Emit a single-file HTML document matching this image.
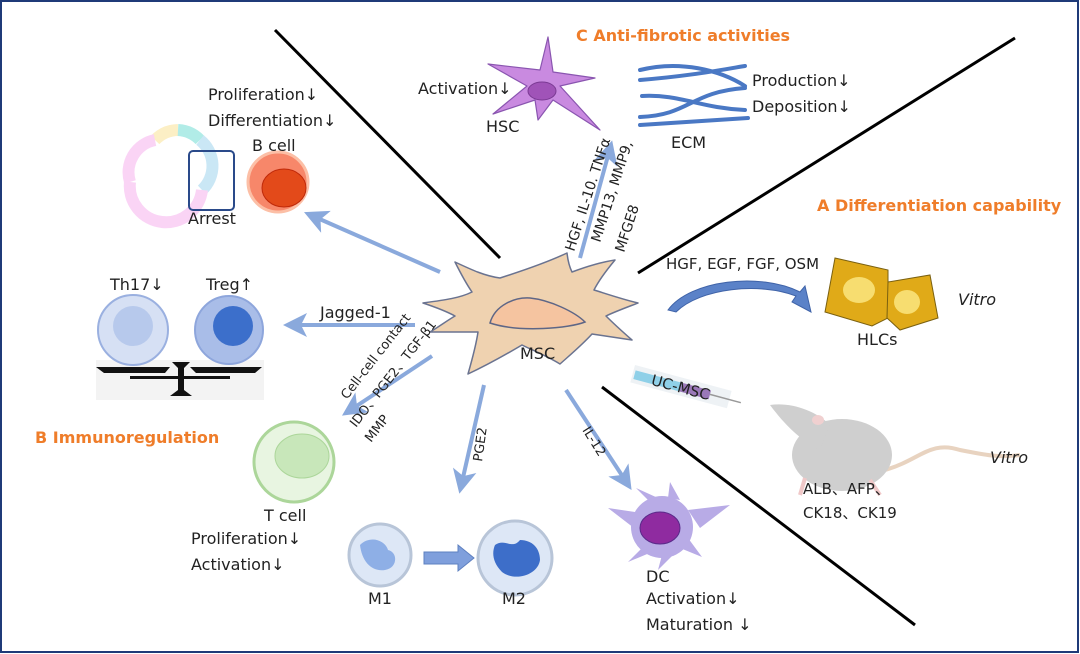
<!DOCTYPE html>
<html><head><meta charset="utf-8"><style>
html,body{margin:0;padding:0;background:#fff}
svg{display:block}
text{font-family:"DejaVu Sans","Liberation Sans",sans-serif;fill:#222}
.o{fill:#ef7d2a;font-weight:bold;font-size:16px}
</style></head><body>
<svg width="1080" height="654" viewBox="0 0 1080 654" xmlns="http://www.w3.org/2000/svg">
<defs>
<marker id="ah" markerWidth="6" markerHeight="6" refX="3" refY="3" orient="auto" markerUnits="strokeWidth">
<path d="M0,0 L6,3 L0,6 L1.5,3 z" fill="#8aa9dc"/></marker>
</defs>
<rect x="1" y="1" width="1077" height="651" fill="#fff" stroke="#1f3a78" stroke-width="2"/>
<g stroke="#000" stroke-width="3">
<line x1="275" y1="30" x2="500" y2="258"/>
<line x1="1015" y1="38" x2="638" y2="273"/>
<line x1="602" y1="387" x2="915" y2="625"/>
</g>
<text class="o" x="576" y="41">C Anti-fibrotic activities</text>
<text class="o" x="817" y="211">A Differentiation capability</text>
<text class="o" x="35" y="443">B Immunoregulation</text>

<g stroke="#8aa9dc" stroke-width="4" fill="none" marker-end="url(#ah)">
<line x1="440" y1="272" x2="315" y2="217"/>
<line x1="415" y1="325" x2="295" y2="325"/>
<line x1="432" y1="356" x2="352" y2="409"/>
<line x1="484" y1="385" x2="462" y2="482"/>
<line x1="566" y1="390" x2="625" y2="480"/>
<line x1="580" y1="258" x2="609" y2="152"/>
</g>

<path d="M423,303 C445,300 460,298 472,292 C465,282 460,272 455,262 C472,270 485,276 500,278 C525,270 548,262 567,253 C568,262 570,268 572,272 C588,266 602,262 615,260 C605,272 598,282 594,290 C610,295 625,300 638,303 C625,308 614,312 606,316 C615,325 624,333 632,340 C618,338 605,336 592,334 C582,345 570,355 560,364 C545,355 532,350 522,345 C505,355 485,366 468,374 C472,360 476,346 478,332 C462,332 446,332 430,332 C440,326 448,320 455,316 C444,310 432,306 423,303 Z" fill="#efd2b0" stroke="#6a7390" stroke-width="1.5" stroke-linejoin="round"/>
<path d="M490,323 C495,305 515,297 530,298 C550,300 575,312 585,322 C570,328 520,333 490,323 Z" fill="#f5c4a0" stroke="#5e6686" stroke-width="1.5"/>
<text x="520" y="359" font-size="16">MSC</text>

<path d="M548,37 L540,70 L488,64 L527,86 L493,114 L535,100 L538,120 L553,100 L600,130 L560,86 L595,78 L553,72 Z" fill="#c98ae0" stroke="#8a55b0" stroke-width="1.2" stroke-linejoin="round"/>
<ellipse cx="542" cy="91" rx="14" ry="9" fill="#a053b8" stroke="#7b3a94"/>
<text x="486" y="132" font-size="16">HSC</text>
<text x="418" y="94" font-size="16">Activation↓</text>
<g stroke="#4a78c4" stroke-width="4" fill="none" stroke-linecap="round">
<path d="M640,70 C680,60 720,70 745,86"/>
<path d="M640,80 C690,76 720,70 745,66"/>
<path d="M642,96 C680,94 700,108 745,110"/>
<path d="M640,117 C690,115 690,92 745,88"/>
<path d="M640,125 L748,118"/>
</g>
<text x="671" y="148" font-size="16">ECM</text>
<text x="752" y="86" font-size="16">Production↓</text>
<text x="752" y="112" font-size="16">Deposition↓</text>
<text font-size="14" transform="translate(574,252) rotate(-72)">HGF, IL-10. TNFα</text>
<text font-size="14" transform="translate(600,243) rotate(-72)">MMP13, MMP9,</text>
<text font-size="14" transform="translate(624,253) rotate(-72)">MFGE8</text>

<text x="666" y="269" font-size="15">HGF, EGF, FGF, OSM</text>
<path d="M668,310 C690,280 760,272 800,292 L805,286 L811,312 L792,302 L796,296 C760,282 700,288 676,312 Z" fill="#5b82c8" stroke="#3f63a8"/>
<path d="M835,258 L888,270 L888,318 L872,326 L825,312 Z" fill="#e0aa18" stroke="#7a6010" stroke-width="1"/>
<path d="M888,282 L930,275 L938,318 L900,330 L887,318 Z" fill="#e0aa18" stroke="#7a6010" stroke-width="1"/>
<ellipse cx="859" cy="290" rx="16" ry="13" fill="#f7dd70"/>
<ellipse cx="907" cy="302" rx="13" ry="12" fill="#f7dd70"/>
<text x="857" y="345" font-size="16">HLCs</text>
<text x="958" y="305" font-size="16" font-style="italic">Vitro</text>
<g transform="translate(635,365) rotate(15)">
<rect x="0" y="0" width="100" height="18" fill="#eef2f5"/>
<rect x="2" y="5" width="48" height="9" fill="#8fd0e8"/>
<rect x="50" y="5" width="30" height="9" fill="#9a78b8"/>
<line x1="80" y1="9" x2="112" y2="9" stroke="#999" stroke-width="1.5"/>
<text x="20" y="15" font-size="15">UC-MSC</text>
</g>
<path d="M885,470 C920,460 930,440 960,450 C985,455 1000,458 1020,455" fill="none" stroke="#e8d3c0" stroke-width="4"/>
<ellipse cx="842" cy="455" rx="50" ry="36" fill="#cfcfcf"/>
<path d="M770,405 C790,402 815,410 830,425 L820,450 C800,440 785,425 770,405 Z" fill="#cfcfcf"/>
<ellipse cx="818" cy="420" rx="6" ry="5" fill="#f0d0d0"/>
<path d="M805,478 L800,495 M870,480 L880,495" stroke="#f0c8c8" stroke-width="4"/>
<text x="990" y="463" font-size="16" font-style="italic">Vitro</text>
<text x="803" y="494" font-size="15">ALB、AFP、</text>
<text x="803" y="518" font-size="15">CK18、CK19</text>

<g fill="none" stroke-width="12" opacity="0.6">
<path d="M155,140 A33,33 0 0 1 178,130" stroke="#fbe5a0"/>
<path d="M178,130 A33,33 0 0 1 200,140" stroke="#7ee0d8"/>
<path d="M200,140 A33,33 0 0 1 202,190" stroke="#a8d8f0"/>
<path d="M202,190 A33,33 0 0 1 130,182" stroke="#f7b8f0"/>
<path d="M130,182 A33,33 0 0 1 155,140" stroke="#f7b8f0"/>
</g>
<rect x="189" y="151" width="45" height="59" rx="4" fill="none" stroke="#2a4a8a" stroke-width="2"/>
<text x="188" y="224" font-size="16">Arrest</text>
<circle cx="278" cy="182" r="30" fill="#f7876a" stroke="#fcbfa6" stroke-width="3"/>
<ellipse cx="284" cy="188" rx="22" ry="19" fill="#e34a1a" stroke="#c02a0a"/>
<text x="252" y="151" font-size="16">B cell</text>
<text x="208" y="100" font-size="16">Proliferation↓</text>
<text x="208" y="126" font-size="16">Differentiation↓</text>

<rect x="96" y="360" width="168" height="40" fill="#f3f3f3"/>
<circle cx="133" cy="330" r="35" fill="#d6e0f4" stroke="#9ab0e0" stroke-width="2"/>
<circle cx="133" cy="326" r="20" fill="#b7c9ec"/>
<circle cx="229" cy="330" r="34" fill="#a9bde8" stroke="#8ea6dc" stroke-width="2"/>
<circle cx="233" cy="326" r="20" fill="#3c6fcb"/>
<path d="M96,367 L170,367 L165,373 L104,373 Z M190,367 L262,367 L255,373 L196,373 Z" fill="#111"/>
<path d="M172,362 L190,362 L184,368 L184,390 L192,396 L170,396 L178,390 L178,368 Z M130,376 L230,376 L230,379 L130,379 Z" fill="#111"/>
<text x="110" y="290" font-size="16">Th17↓</text>
<text x="206" y="290" font-size="16">Treg↑</text>
<text x="320" y="318" font-size="16">Jagged-1</text>
<text font-size="13" transform="translate(347,400) rotate(-52)">Cell-cell contact</text>
<text font-size="13" transform="translate(356,428) rotate(-52)">IDO、PGE2、TGF-β1</text>
<text font-size="13" transform="translate(371,443) rotate(-52)">MMP</text>
<circle cx="294" cy="462" r="40" fill="#e8f5e1" stroke="#acd69a" stroke-width="3"/>
<ellipse cx="302" cy="456" rx="27" ry="22" fill="#c8e7ba" stroke="#acd69a"/>
<text x="264" y="521" font-size="16">T cell</text>
<text x="191" y="544" font-size="16">Proliferation↓</text>
<text x="191" y="570" font-size="16">Activation↓</text>
<text font-size="13" transform="translate(482,462) rotate(-82)">PGE2</text>
<text font-size="13" transform="translate(582,430) rotate(58)" >IL-12</text>
<circle cx="380" cy="555" r="31" fill="#dde7f6" stroke="#b8c5d8" stroke-width="3"/>
<path d="M360,545 C370,535 385,540 388,550 C398,552 398,568 385,570 C372,572 362,562 360,545 Z" fill="#8eafe6"/>
<circle cx="515" cy="558" r="37" fill="#dde7f6" stroke="#b8c5d8" stroke-width="3"/>
<path d="M495,545 C505,538 512,550 520,540 C532,540 540,548 540,560 C538,575 515,582 502,572 C492,562 492,552 495,545 Z" fill="#3d6ec9"/>
<path d="M424,552 L458,552 L458,545 L474,558 L458,571 L458,564 L424,564 Z" fill="#7f9fdc" stroke="#5e80c0"/>
<text x="368" y="604" font-size="16">M1</text>
<text x="502" y="604" font-size="16">M2</text>
<g fill="#b8abe6">
<circle cx="662" cy="527" r="31"/>
<path d="M635,512 L608,508 L634,528 Z M668,498 L670,482 L680,500 Z M688,510 L730,505 L700,528 Z M688,538 L702,557 L680,548 Z M642,548 L628,562 L652,552 Z M662,555 L658,570 L672,556 Z M648,500 L636,488 L658,498 Z"/>
</g>
<ellipse cx="660" cy="528" rx="20" ry="16" fill="#8f2ba0" stroke="#5a2a8a"/>
<text x="646" y="582" font-size="16">DC</text>
<text x="646" y="604" font-size="16">Activation↓</text>
<text x="646" y="630" font-size="16">Maturation ↓</text>
</svg>
</body></html>
